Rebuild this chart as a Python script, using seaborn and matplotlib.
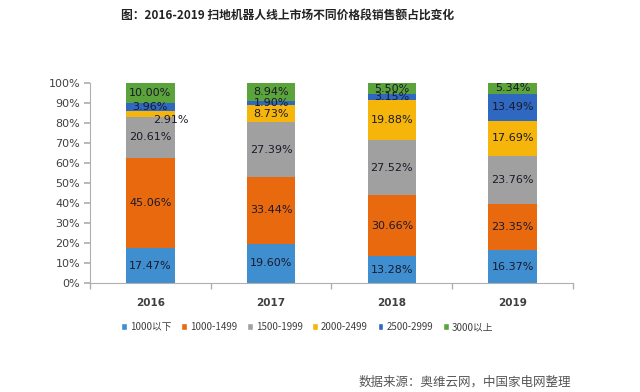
import matplotlib
matplotlib.use("Agg")
import matplotlib.pyplot as plt
import seaborn as sns
import numpy as np
import pandas as pd
from matplotlib.patches import Patch

years = ["2016", "2017", "2018", "2019"]
segments = ["1000以下", "1000-1499", "1500-1999", "2000-2499", "2500-2999", "3000以上"]
v_1000below = [17.47, 19.60, 13.28, 16.37]
v_1000_1499 = [45.06, 33.44, 30.66, 23.35]
v_1500_1999 = [20.61, 27.39, 27.52, 23.76]
v_2000_2499 = [2.91, 8.73, 19.88, 17.69]
v_2500_2999 = [3.96, 1.90, 3.15, 13.49]
v_3000above = [10.00, 8.94, 5.50, 5.34]
colors = ["#3E8ED0", "#E8690E", "#A0A0A0", "#F5B50A", "#2F68C0", "#5BA33B"]

title = "图：2016-2019 扫地机器人线上市场不同价格段销售额占比变化"
source = "数据来源：奥维云网，中国家电网整理"

sns.set_theme(style="white")
plt.rcParams['font.family'] = ['Noto Sans CJK SC', 'DejaVu Sans']

series = [v_1000below, v_1000_1499, v_1500_1999, v_2000_2499, v_2500_2999, v_3000above]
vals = np.array(series)
cum = np.cumsum(vals, axis=0)

fig = plt.figure(figsize=(6.4, 3.92), dpi=100)
ax = fig.add_axes([0.1406, 0.278, 0.7547, 0.51])

# draw from top layer down so lower layers overlay
for i in range(len(segments) - 1, -1, -1):
    df = pd.DataFrame({"year": years, "cum": cum[i]})
    sns.barplot(data=df, x="year", y="cum", color=colors[i], width=0.4,
                saturation=1, ax=ax, order=years, linewidth=0, edgecolor="none")

# labels
for i in range(len(segments)):
    for j in range(len(years)):
        v = vals[i, j]
        c = cum[i, j] - v / 2
        x = j
        if i == 3 and j == 0:
            x = j + 0.17
            c = c - 3
        ax.text(x, c, f"{v:.2f}%", ha="center", va="center", fontsize=8,
                color="#1a1a2a", family="DejaVu Sans")

ax.set_xlim(-0.5, 3.5)
ax.set_ylim(0, 100)
ax.set_yticks(np.arange(0, 101, 10))
ax.set_yticklabels([f"{t}%" for t in range(0, 101, 10)], fontsize=8, color="#404040",
                   family="DejaVu Sans")
ax.set_xticks(range(4))
ax.set_xticklabels(years, fontsize=7.5, fontweight="bold", color="#404040", family="DejaVu Sans")
ax.set_xticks([-0.5, 0.5, 1.5, 2.5, 3.5], minor=True)
ax.tick_params(axis="x", which="major", length=0, pad=11)
ax.tick_params(axis="x", which="minor", length=4, direction="out", color="#b0b0b0", bottom=True)
ax.tick_params(axis="y", length=4, direction="out", color="#b0b0b0", left=True, pad=3)
ax.set_xlabel("")
ax.set_ylabel("")
for s in ["top", "right"]:
    ax.spines[s].set_visible(False)
for s in ["left", "bottom"]:
    ax.spines[s].set_color("#b0b0b0")
    ax.spines[s].set_linewidth(0.8)

handles = [Patch(facecolor=colors[i], label=segments[i]) for i in range(len(segments))]
fig.legend(handles=handles, loc="center", bbox_to_anchor=(0.48, 0.166), ncol=6,
           frameon=False, fontsize=7, handlelength=0.6, handleheight=0.6,
           handletextpad=0.3, columnspacing=1.0, labelcolor="#404040")

fig.text(0.449, 0.962, title, ha="center", va="center", fontsize=8.5, fontweight="bold",
         color="#222222")
fig.text(0.56, 0.025, source, ha="left", va="center", fontsize=9, color="#555555")

fig.savefig("out.png", dpi=100)
